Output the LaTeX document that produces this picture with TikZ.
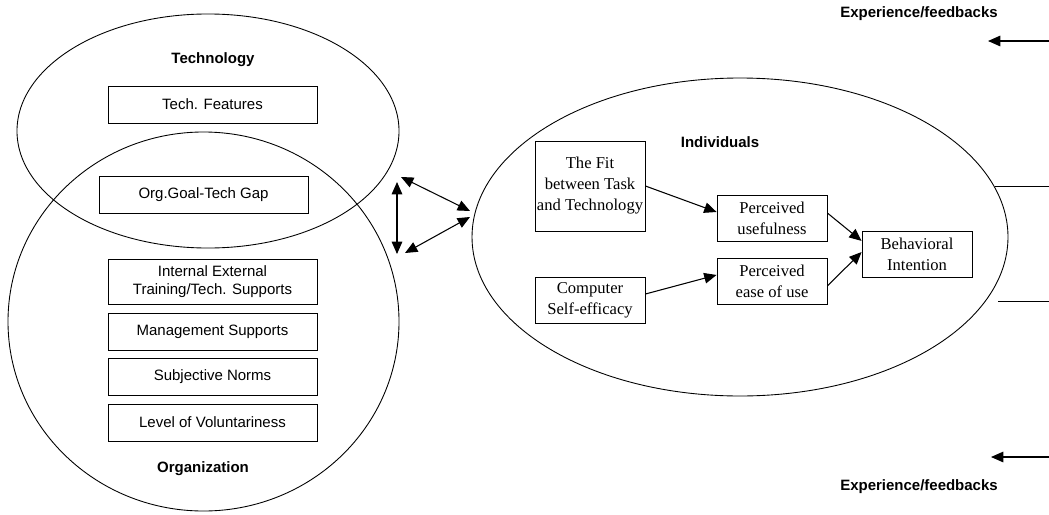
\documentclass[tikz,border=0pt]{standalone}
\usepackage{fontspec}
\setmainfont{Liberation Serif}
\setsansfont{Liberation Sans}
\usetikzlibrary{shapes.geometric,arrows.meta}
\tikzset{
  every path/.style={line width=0.5pt},
  sbox/.style={draw, line width=0.45pt, rectangle, inner sep=0pt, minimum width=118.5pt, minimum height=21pt,
    align=center, font=\sffamily\fontsize{8.5}{10.3}\selectfont},
  tbox/.style={draw, line width=0.45pt, rectangle, inner sep=0pt, minimum width=62.4pt, minimum height=26pt,
    align=center, font=\rmfamily\fontsize{9.4}{11.9}\selectfont},
  lbl/.style={inner sep=0pt, font=\sffamily\bfseries\fontsize{8.5}{10}\selectfont},
  oval/.style={draw, line width=0.5pt, ellipse, inner sep=0pt},
  arr/.style={line width=0.6pt, -{Triangle[length=7pt,width=6pt]}},
  darr/.style={line width=0.6pt, {Triangle[length=7pt,width=6pt]}-{Triangle[length=7pt,width=6pt]}},
}
\begin{document}
\begin{tikzpicture}[x=0.567pt, y=-0.567pt]
\useasboundingbox (0,0) rectangle (1049,514);
% ellipses
\node[oval, minimum width=216.6pt, minimum height=132.7pt] (tech) at (208,131) {};
\node[oval, minimum width=221.7pt, minimum height=214.9pt] (org) at (203.5,321.5) {};
\node[oval, minimum width=303.9pt, minimum height=180.3pt] (ind) at (740,237) {};
% labels
\node[lbl] (techl) at (213,60) {Technology};
\node[lbl] (orgl) at (203,469) {Organization};
\node[lbl] (indl) at (720,142) {Individuals};
\node[lbl] (exp1) at (919,14) {Experience/feedbacks};
\node[lbl] (exp2) at (919,487) {Experience/feedbacks};
% left boxes
\node[sbox] (tf) at (212.5,104.5) {Tech. Features};
\node[sbox] (gap) at (203.5,195) {Org.Goal-Tech Gap};
\node[sbox, minimum height=25.5pt] (ie) at (212.5,281.5) {Internal External\\Training/Tech. Supports};
\node[sbox] (ms) at (212.5,331.5) {Management Supports};
\node[sbox] (sn) at (212.5,377) {Subjective Norms};
\node[sbox] (lv) at (212.5,422.5) {Level of Voluntariness};
% right boxes
\node[tbox, minimum height=51pt] (fit) at (590,186) {The Fit\\between Task\\and Technology};
\node[tbox] (pu) at (772,218) {Perceived\\usefulness};
\node[tbox] (peou) at (772,281.5) {Perceived\\ease of use};
\node[tbox] (cse) at (590,300) {Computer\\Self-efficacy};
\node[tbox] (bi) at (917,254.5) {Behavioral\\Intention};
% arrows inside individuals
\draw[arr] (fit.east) -- ([yshift=3.4pt]pu.west);
\draw[arr] ([yshift=3.4pt]cse.east) -- ([yshift=3.7pt]peou.west);
\draw[arr] ([yshift=2.8pt]pu.east) -- ([yshift=7.7pt]bi.west);
\draw[arr] ([yshift=-2.5pt]peou.east) -- ([yshift=1.4pt]bi.west);
% triangle of double arrows
\coordinate (ta) at (401,177);
\coordinate (tv) at (397,182);
\coordinate (bv) at (397,254);
\coordinate (bd) at (405,253);
\coordinate (r1) at (470,211);
\coordinate (r2) at (470,217);
\draw[darr] (ta) -- (r1);
\draw[darr] (tv) -- (bv);
\draw[darr] (bd) -- (r2);
% feedback arrows and lines on the right
\coordinate (f1s) at (1049,41);
\coordinate (f1e) at (988,41);
\coordinate (f2s) at (1049,457);
\coordinate (f2e) at (991,457);
\draw[arr] (f1s) -- (f1e);
\draw[arr] (f2s) -- (f2e);
\coordinate (l1a) at (995,186);
\coordinate (l1b) at (1049,186);
\coordinate (l2a) at (998,301);
\coordinate (l2b) at (1049,301);
\draw (l1a) -- (l1b);
\draw (l2a) -- (l2b);
\end{tikzpicture}
\end{document}
